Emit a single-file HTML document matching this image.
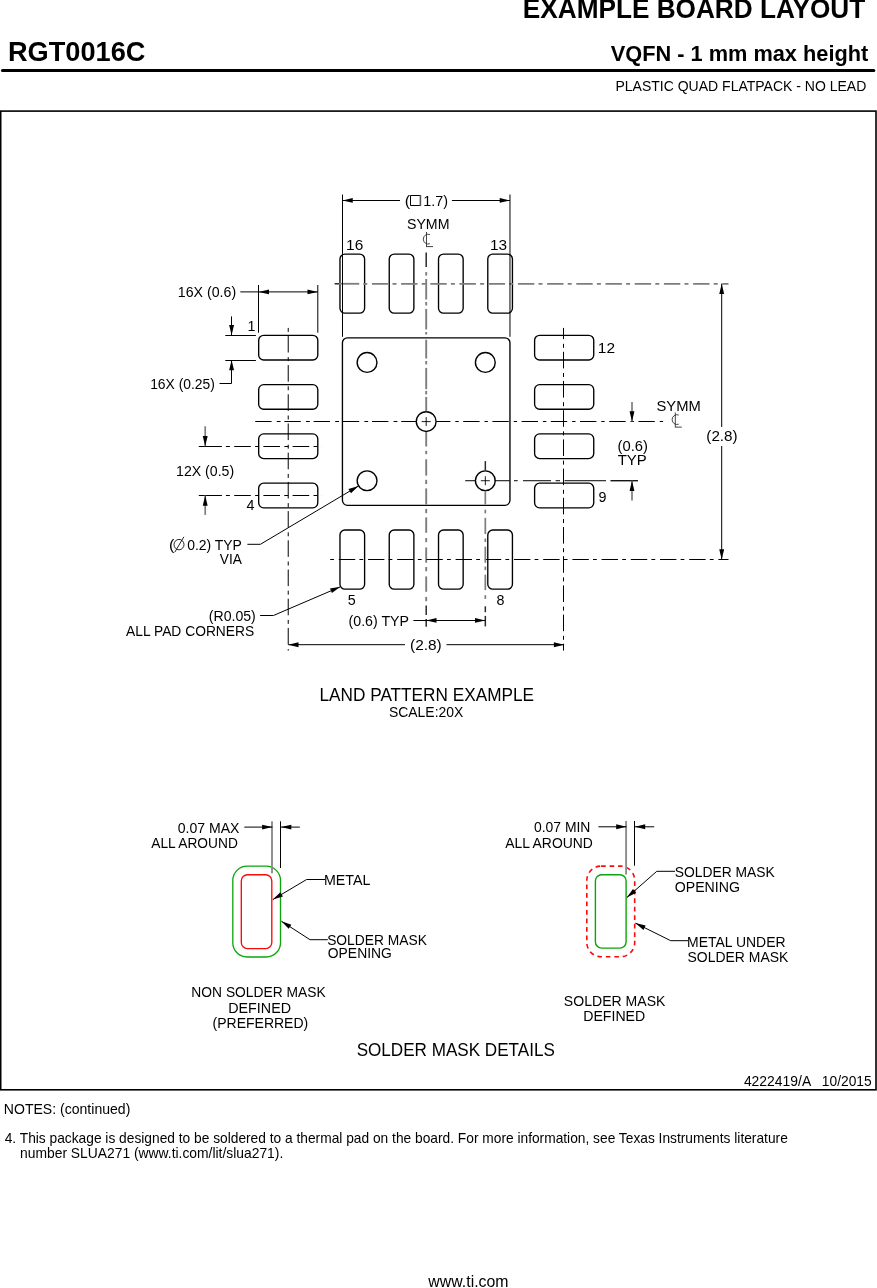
<!DOCTYPE html>
<html><head><meta charset="utf-8"><title>RGT0016C</title>
<style>
html,body{margin:0;padding:0;background:#fff;}
body{width:877px;height:1288px;overflow:hidden;font-family:"Liberation Sans",sans-serif;}
svg{display:block;position:absolute;left:0;top:0;will-change:transform;}
svg text{font-family:"Liberation Sans",sans-serif;fill:#000;white-space:pre;}
</style></head><body>
<svg width="877" height="1288" viewBox="0 0 877 1288">
<text x="522.83" y="18.4" font-size="27.6" textLength="342.34" lengthAdjust="spacingAndGlyphs" font-weight="bold">EXAMPLE BOARD LAYOUT</text>
<text x="7.97" y="61" font-size="27.7" textLength="137.49" lengthAdjust="spacingAndGlyphs" font-weight="bold">RGT0016C</text>
<text x="610.74" y="60.5" font-size="22.6" textLength="257.55" lengthAdjust="spacingAndGlyphs" font-weight="bold">VQFN - 1 mm max height</text>
<line x1="2.5" y1="70.5" x2="873.8" y2="70.5" stroke="#000" stroke-width="3.1" stroke-linecap="round"/>
<text x="615.44" y="91.2" font-size="14.4" textLength="250.91" lengthAdjust="spacingAndGlyphs">PLASTIC QUAD FLATPACK - NO LEAD</text>
<rect x="0.7" y="111.1" width="875.3" height="978.7" fill="none" stroke="#000" stroke-width="1.6"/>
<rect x="342.43" y="337.83" width="167.53" height="167.53" rx="5" ry="5" fill="none" stroke="#000" stroke-width="1.35"/>
<rect x="339.97" y="254.06" width="24.64" height="59.13" rx="5" ry="5" fill="none" stroke="#000" stroke-width="1.35"/>
<rect x="339.97" y="530.01" width="24.64" height="59.13" rx="5" ry="5" fill="none" stroke="#000" stroke-width="1.35"/>
<rect x="258.67" y="335.37" width="59.13" height="24.64" rx="5" ry="5" fill="none" stroke="#000" stroke-width="1.35"/>
<rect x="534.61" y="335.37" width="59.13" height="24.64" rx="5" ry="5" fill="none" stroke="#000" stroke-width="1.35"/>
<rect x="389.24" y="254.06" width="24.64" height="59.13" rx="5" ry="5" fill="none" stroke="#000" stroke-width="1.35"/>
<rect x="389.24" y="530.01" width="24.64" height="59.13" rx="5" ry="5" fill="none" stroke="#000" stroke-width="1.35"/>
<rect x="258.67" y="384.64" width="59.13" height="24.64" rx="5" ry="5" fill="none" stroke="#000" stroke-width="1.35"/>
<rect x="534.61" y="384.64" width="59.13" height="24.64" rx="5" ry="5" fill="none" stroke="#000" stroke-width="1.35"/>
<rect x="438.52" y="254.06" width="24.64" height="59.13" rx="5" ry="5" fill="none" stroke="#000" stroke-width="1.35"/>
<rect x="438.52" y="530.01" width="24.64" height="59.13" rx="5" ry="5" fill="none" stroke="#000" stroke-width="1.35"/>
<rect x="258.67" y="433.92" width="59.13" height="24.64" rx="5" ry="5" fill="none" stroke="#000" stroke-width="1.35"/>
<rect x="534.61" y="433.92" width="59.13" height="24.64" rx="5" ry="5" fill="none" stroke="#000" stroke-width="1.35"/>
<rect x="487.79" y="254.06" width="24.64" height="59.13" rx="5" ry="5" fill="none" stroke="#000" stroke-width="1.35"/>
<rect x="487.79" y="530.01" width="24.64" height="59.13" rx="5" ry="5" fill="none" stroke="#000" stroke-width="1.35"/>
<rect x="258.67" y="483.19" width="59.13" height="24.64" rx="5" ry="5" fill="none" stroke="#000" stroke-width="1.35"/>
<rect x="534.61" y="483.19" width="59.13" height="24.64" rx="5" ry="5" fill="none" stroke="#000" stroke-width="1.35"/>
<circle cx="367.07" cy="362.47" r="9.9" fill="none" stroke="#000" stroke-width="1.4"/>
<circle cx="367.07" cy="480.73" r="9.9" fill="none" stroke="#000" stroke-width="1.4"/>
<circle cx="485.33" cy="362.47" r="9.9" fill="none" stroke="#000" stroke-width="1.4"/>
<circle cx="485.33" cy="480.73" r="9.9" fill="none" stroke="#000" stroke-width="1.4"/>
<circle cx="426.2" cy="421.6" r="9.9" fill="none" stroke="#000" stroke-width="1.4"/>
<line x1="421.7" y1="421.6" x2="430.7" y2="421.6" stroke="#000" stroke-width="0.9"/>
<line x1="426.2" y1="417.1" x2="426.2" y2="426.1" stroke="#000" stroke-width="0.9"/>
<line x1="480.83" y1="480.73" x2="489.83" y2="480.73" stroke="#000" stroke-width="0.9"/>
<line x1="485.33" y1="476.23" x2="485.33" y2="485.23" stroke="#000" stroke-width="0.9"/>
<line x1="426.2" y1="252.5" x2="426.2" y2="267" stroke="#2a2a2a" stroke-width="1.5"/>
<line x1="426.2" y1="272.1" x2="426.2" y2="275.6" stroke="#7d7d7d" stroke-width="1.9"/>
<line x1="426.2" y1="279" x2="426.2" y2="299.5" stroke="#7d7d7d" stroke-width="1.9"/>
<line x1="426.2" y1="302" x2="426.2" y2="305.5" stroke="#7d7d7d" stroke-width="1.9"/>
<line x1="426.2" y1="308.9" x2="426.2" y2="329.4" stroke="#7d7d7d" stroke-width="1.9"/>
<line x1="426.2" y1="332" x2="426.2" y2="334.5" stroke="#7d7d7d" stroke-width="1.9"/>
<line x1="426.2" y1="339.7" x2="426.2" y2="358.5" stroke="#7d7d7d" stroke-width="1.9"/>
<line x1="426.2" y1="361" x2="426.2" y2="364.4" stroke="#7d7d7d" stroke-width="1.9"/>
<line x1="426.2" y1="367.9" x2="426.2" y2="389.2" stroke="#7d7d7d" stroke-width="1.9"/>
<line x1="426.2" y1="390.9" x2="426.2" y2="394.4" stroke="#7d7d7d" stroke-width="1.9"/>
<line x1="426.2" y1="396.9" x2="426.2" y2="411.2" stroke="#7d7d7d" stroke-width="1.9"/>
<line x1="426.2" y1="432" x2="426.2" y2="446.5" stroke="#7d7d7d" stroke-width="1.9"/>
<line x1="426.2" y1="450.8" x2="426.2" y2="454.2" stroke="#7d7d7d" stroke-width="1.9"/>
<line x1="426.2" y1="459.3" x2="426.2" y2="475.6" stroke="#7d7d7d" stroke-width="1.9"/>
<line x1="426.2" y1="479.8" x2="426.2" y2="484.1" stroke="#7d7d7d" stroke-width="1.9"/>
<line x1="426.2" y1="488.4" x2="426.2" y2="504.6" stroke="#7d7d7d" stroke-width="1.9"/>
<line x1="426.2" y1="508.9" x2="426.2" y2="513.2" stroke="#7d7d7d" stroke-width="1.9"/>
<line x1="426.2" y1="517.4" x2="426.2" y2="532.8" stroke="#7d7d7d" stroke-width="1.9"/>
<line x1="426.2" y1="538" x2="426.2" y2="542.2" stroke="#7d7d7d" stroke-width="1.9"/>
<line x1="426.2" y1="547.4" x2="426.2" y2="562.7" stroke="#7d7d7d" stroke-width="1.9"/>
<line x1="426.2" y1="567" x2="426.2" y2="571.3" stroke="#7d7d7d" stroke-width="1.9"/>
<line x1="426.2" y1="576.4" x2="426.2" y2="591.8" stroke="#7d7d7d" stroke-width="1.9"/>
<line x1="426.2" y1="596.9" x2="426.2" y2="601.2" stroke="#7d7d7d" stroke-width="1.9"/>
<line x1="426.2" y1="605.5" x2="426.2" y2="614.9" stroke="#2a2a2a" stroke-width="1.5"/>
<line x1="426.2" y1="619.1" x2="426.2" y2="626.8" stroke="#2a2a2a" stroke-width="1.5"/>
<line x1="255.2" y1="421.5" x2="416.3" y2="421.5" stroke="#000" stroke-width="1" stroke-dasharray="16.4 5.2 3.8 3.8"/>
<line x1="436.3" y1="421.5" x2="664.5" y2="421.5" stroke="#000" stroke-width="1" stroke-dashoffset="2.3" stroke-dasharray="16.4 4.9 3.4 4.5"/>
<line x1="334.6" y1="283.78" x2="339" y2="283.78" stroke="#2a2a2a" stroke-width="1.5"/>
<line x1="339" y1="283.78" x2="359.2" y2="283.78" stroke="#7d7d7d" stroke-width="1.8"/>
<line x1="363.3" y1="283.78" x2="728.5" y2="283.78" stroke="#7d7d7d" stroke-width="1.8" stroke-dasharray="4 4.6 16.4 4.2"/>
<line x1="330.2" y1="559.5" x2="728.5" y2="559.5" stroke="#000" stroke-width="1" stroke-dasharray="3.8 4.8 16.4 4.2"/>
<line x1="288.23" y1="327.9" x2="288.23" y2="650.6" stroke="#000" stroke-width="1" stroke-dasharray="4 4 16.6 4.6"/>
<line x1="563.5" y1="327.9" x2="563.5" y2="339.1" stroke="#000" stroke-width="1"/>
<line x1="563.5" y1="343.8" x2="563.5" y2="650.6" stroke="#000" stroke-width="1" stroke-dasharray="4 4 16.6 4.6"/>
<line x1="485.33" y1="461.1" x2="485.33" y2="470.3" stroke="#2a2a2a" stroke-width="1.5"/>
<line x1="485.33" y1="490.8" x2="485.33" y2="504.5" stroke="#7d7d7d" stroke-width="1.7"/>
<line x1="485.33" y1="509.7" x2="485.33" y2="513.4" stroke="#7d7d7d" stroke-width="1.7"/>
<line x1="485.33" y1="517.8" x2="485.33" y2="534" stroke="#7d7d7d" stroke-width="1.7"/>
<line x1="485.33" y1="538.5" x2="485.33" y2="542.1" stroke="#7d7d7d" stroke-width="1.7"/>
<line x1="485.33" y1="546.6" x2="485.33" y2="562.8" stroke="#7d7d7d" stroke-width="1.7"/>
<line x1="485.33" y1="566.5" x2="485.33" y2="570.2" stroke="#7d7d7d" stroke-width="1.7"/>
<line x1="485.33" y1="574.6" x2="485.33" y2="590.1" stroke="#7d7d7d" stroke-width="1.7"/>
<line x1="485.33" y1="595.2" x2="485.33" y2="598.9" stroke="#7d7d7d" stroke-width="1.7"/>
<line x1="485.33" y1="606.3" x2="485.33" y2="612.2" stroke="#2a2a2a" stroke-width="1.5"/>
<line x1="485.33" y1="615.9" x2="485.33" y2="626.4" stroke="#2a2a2a" stroke-width="1.5"/>
<line x1="465.2" y1="480.73" x2="475.2" y2="480.73" stroke="#000" stroke-width="1"/>
<line x1="494.6" y1="480.73" x2="509.7" y2="480.73" stroke="#000" stroke-width="1"/>
<line x1="514" y1="480.73" x2="517.7" y2="480.73" stroke="#000" stroke-width="1"/>
<line x1="523" y1="480.73" x2="551" y2="480.73" stroke="#000" stroke-width="1"/>
<line x1="555.6" y1="480.73" x2="560" y2="480.73" stroke="#000" stroke-width="1"/>
<line x1="564.5" y1="480.73" x2="606" y2="480.73" stroke="#000" stroke-width="1"/>
<line x1="610.5" y1="480.73" x2="638" y2="480.73" stroke="#000" stroke-width="1.3"/>
<line x1="198.8" y1="446.5" x2="221.9" y2="446.5" stroke="#000" stroke-width="1"/>
<line x1="225.9" y1="446.5" x2="321.9" y2="446.5" stroke="#000" stroke-width="1" stroke-dasharray="4 4.3 16.6 4.3"/>
<line x1="198.8" y1="495.5" x2="221.9" y2="495.5" stroke="#000" stroke-width="1"/>
<line x1="225.9" y1="495.5" x2="321.9" y2="495.5" stroke="#000" stroke-width="1" stroke-dasharray="4 4.3 16.6 4.3"/>
<line x1="342.5" y1="194.5" x2="342.5" y2="336.83" stroke="#000" stroke-width="1"/>
<line x1="509.97" y1="194.5" x2="509.97" y2="336.83" stroke="#000" stroke-width="1"/>
<line x1="342.43" y1="200.5" x2="400" y2="200.5" stroke="#000" stroke-width="1"/>
<line x1="451.9" y1="200.5" x2="509.97" y2="200.5" stroke="#000" stroke-width="1"/>
<polygon points="342.43,200.4 352.73,197.95 352.73,202.85" fill="#000"/>
<polygon points="509.97,200.4 499.67,202.85 499.67,197.95" fill="#000"/>
<text x="404.69" y="205.6" font-size="14.3" textLength="5.4" lengthAdjust="spacingAndGlyphs">(</text>
<path d="M420.5 195.5 H410.5 V205.5 H420.5" fill="none" stroke="#000" stroke-width="1"/>
<line x1="420.4" y1="195" x2="420.4" y2="206" stroke="#555" stroke-width="1.6"/>
<text x="423.22" y="205.6" font-size="14.3" textLength="24.75" lengthAdjust="spacingAndGlyphs">1.7)</text>
<text x="406.96" y="228.7" font-size="14.3" textLength="42.51" lengthAdjust="spacingAndGlyphs">SYMM</text>
<line x1="426.5" y1="232" x2="426.5" y2="247" stroke="#222" stroke-width="0.85"/>
<line x1="426.5" y1="246.6" x2="433" y2="246.6" stroke="#222" stroke-width="0.85"/>
<path d="M 429.9 234.5 A 4.9 4.9 0 1 0 429.9 243.7" fill="none" stroke="#222" stroke-width="0.85"/>
<line x1="675.3" y1="412.5" x2="675.3" y2="427.5" stroke="#222" stroke-width="0.85"/>
<line x1="675.3" y1="427.1" x2="681.8" y2="427.1" stroke="#222" stroke-width="0.85"/>
<path d="M 678.7 415 A 4.9 4.9 0 1 0 678.7 424.2" fill="none" stroke="#222" stroke-width="0.85"/>
<text x="656.44" y="411" font-size="14.3" textLength="44.28" lengthAdjust="spacingAndGlyphs">SYMM</text>
<text x="346.14" y="250.3" font-size="14.3" textLength="17.15" lengthAdjust="spacingAndGlyphs">16</text>
<text x="490.04" y="250.3" font-size="14.3" textLength="17.15" lengthAdjust="spacingAndGlyphs">13</text>
<text x="247.4" y="330.7" font-size="14.3">1</text>
<text x="597.84" y="353.3" font-size="14.3" textLength="17.17" lengthAdjust="spacingAndGlyphs">12</text>
<text x="598.5" y="501.6" font-size="14.3">9</text>
<text x="246.6" y="509.9" font-size="14.3">4</text>
<text x="347.7" y="604.7" font-size="14.3">5</text>
<text x="496.6" y="604.7" font-size="14.3">8</text>
<line x1="258.5" y1="285" x2="258.5" y2="332.7" stroke="#000" stroke-width="1"/>
<line x1="317.8" y1="285" x2="317.8" y2="332.7" stroke="#000" stroke-width="1"/>
<line x1="240.3" y1="291.9" x2="317.8" y2="291.9" stroke="#000" stroke-width="1"/>
<polygon points="258.67,291.9 268.97,289.45 268.97,294.35" fill="#000"/>
<polygon points="317.8,291.9 307.5,294.35 307.5,289.45" fill="#000"/>
<text x="177.84" y="297.3" font-size="14.3" textLength="58.33" lengthAdjust="spacingAndGlyphs">16X (0.6)</text>
<line x1="225.3" y1="335.5" x2="255.9" y2="335.5" stroke="#000" stroke-width="1"/>
<line x1="225.3" y1="360.5" x2="255.9" y2="360.5" stroke="#000" stroke-width="1"/>
<line x1="231.5" y1="316.4" x2="231.5" y2="335.37" stroke="#000" stroke-width="1"/>
<polygon points="231.6,335.37 229.15,325.07 234.05,325.07" fill="#000"/>
<polyline points="231.5,360.01 231.5,383.5 219.5,383.5" fill="none" stroke="#000" stroke-width="1"/>
<polygon points="231.6,360.01 234.05,370.31 229.15,370.31" fill="#000"/>
<text x="150.16" y="388.6" font-size="14.3" textLength="64.77" lengthAdjust="spacingAndGlyphs">16X (0.25)</text>
<line x1="205.2" y1="426.3" x2="205.2" y2="446.24" stroke="#7d7d7d" stroke-width="1.7"/>
<polygon points="205.2,446.24 202.75,435.94 207.65,435.94" fill="#000"/>
<line x1="205.2" y1="514.9" x2="205.2" y2="495.51" stroke="#7d7d7d" stroke-width="1.7"/>
<polygon points="205.2,495.51 207.65,505.81 202.75,505.81" fill="#000"/>
<text x="176.04" y="475.8" font-size="14.3" textLength="58.12" lengthAdjust="spacingAndGlyphs">12X (0.5)</text>
<text x="169.09" y="549.8" font-size="14.3" textLength="5.4" lengthAdjust="spacingAndGlyphs">(</text>
<ellipse cx="179" cy="544.6" rx="5" ry="5.2" fill="none" stroke="#111" stroke-width="0.9"/>
<line x1="174.8" y1="552.2" x2="183.9" y2="536.8" stroke="#111" stroke-width="0.9"/>
<text x="187.14" y="549.8" font-size="14.3" textLength="54.8" lengthAdjust="spacingAndGlyphs">0.2) TYP</text>
<text x="219.83" y="564" font-size="14.3" textLength="22.09" lengthAdjust="spacingAndGlyphs">VIA</text>
<polyline points="247.4,544.3 260.4,544.3 358.57,485.93" fill="none" stroke="#000" stroke-width="1"/>
<polygon points="358.57,485.93 350.97,493.3 348.46,489.09" fill="#000"/>
<text x="208.82" y="621" font-size="14.3" textLength="47.02" lengthAdjust="spacingAndGlyphs">(R0.05)</text>
<text x="126.07" y="635.8" font-size="14.3" textLength="128.16" lengthAdjust="spacingAndGlyphs">ALL PAD CORNERS</text>
<polyline points="260.1,615.5 273.4,615.5 340.4,586.8" fill="none" stroke="#000" stroke-width="1"/>
<polygon points="340.4,586.8 331.9,593.12 329.97,588.62" fill="#000"/>
<line x1="485.5" y1="627" x2="485.5" y2="627" stroke="#000" stroke-width="1"/>
<line x1="413.4" y1="620.5" x2="485.33" y2="620.5" stroke="#000" stroke-width="1"/>
<polygon points="426.2,620.4 436.5,617.95 436.5,622.85" fill="#000"/>
<polygon points="485.33,620.4 475.03,622.85 475.03,617.95" fill="#000"/>
<text x="348.51" y="625.9" font-size="14.3" textLength="60.51" lengthAdjust="spacingAndGlyphs">(0.6) TYP</text>
<line x1="288.23" y1="644.7" x2="405" y2="644.7" stroke="#000" stroke-width="1"/>
<line x1="446.5" y1="644.7" x2="564.17" y2="644.7" stroke="#000" stroke-width="1"/>
<polygon points="288.23,644.7 298.53,642.25 298.53,647.15" fill="#000"/>
<polygon points="564.17,644.7 553.87,647.15 553.87,642.25" fill="#000"/>
<text x="410.04" y="650.3" font-size="14.3" textLength="31.71" lengthAdjust="spacingAndGlyphs">(2.8)</text>
<line x1="721.7" y1="283.63" x2="721.7" y2="427" stroke="#000" stroke-width="1"/>
<line x1="721.7" y1="446" x2="721.7" y2="559.57" stroke="#000" stroke-width="1"/>
<polygon points="721.7,283.63 724.15,293.93 719.25,293.93" fill="#000"/>
<polygon points="721.7,559.57 719.25,549.27 724.15,549.27" fill="#000"/>
<text x="706.35" y="440.6" font-size="14.3" textLength="31.28" lengthAdjust="spacingAndGlyphs">(2.8)</text>
<line x1="632" y1="402" x2="632" y2="421.6" stroke="#7d7d7d" stroke-width="1.7"/>
<polygon points="632,421.6 629.55,411.3 634.45,411.3" fill="#000"/>
<line x1="632" y1="500.4" x2="632" y2="480.73" stroke="#7d7d7d" stroke-width="1.7"/>
<polygon points="632,480.73 634.45,491.03 629.55,491.03" fill="#000"/>
<text x="617.58" y="451" font-size="14.3" textLength="30.32" lengthAdjust="spacingAndGlyphs">(0.6)</text>
<text x="617.66" y="465.1" font-size="14.3" textLength="29.12" lengthAdjust="spacingAndGlyphs">TYP</text>
<text x="319.53" y="701.4" font-size="17.6" textLength="214.48" lengthAdjust="spacingAndGlyphs">LAND PATTERN EXAMPLE</text>
<text x="388.97" y="717.2" font-size="14.3" textLength="74.33" lengthAdjust="spacingAndGlyphs">SCALE:20X</text>
<rect x="232.8" y="866.2" width="47.7" height="90.8" rx="14.3" ry="14.3" fill="none" stroke="#0aa50a" stroke-width="1.3"/>
<rect x="241.3" y="874.7" width="30.5" height="73.9" rx="6.2" ry="6.2" fill="none" stroke="#ff0808" stroke-width="1.35"/>
<line x1="272" y1="821.3" x2="272" y2="873.2" stroke="#8c8c8c" stroke-width="1.9"/>
<line x1="280.5" y1="821.3" x2="280.5" y2="868" stroke="#000" stroke-width="1"/>
<line x1="244.3" y1="827.1" x2="272.4" y2="827.1" stroke="#000" stroke-width="1"/>
<polygon points="272.4,827.1 262.1,829.55 262.1,824.65" fill="#000"/>
<line x1="281" y1="827.1" x2="299.8" y2="827.1" stroke="#000" stroke-width="1"/>
<polygon points="281,827.1 291.3,824.65 291.3,829.55" fill="#000"/>
<text x="177.74" y="832.6" font-size="14.3" textLength="61.76" lengthAdjust="spacingAndGlyphs">0.07 MAX</text>
<text x="151.27" y="847.6" font-size="14.3" textLength="86.57" lengthAdjust="spacingAndGlyphs">ALL AROUND</text>
<text x="323.92" y="884.6" font-size="14.3" textLength="46.47" lengthAdjust="spacingAndGlyphs">METAL</text>
<polyline points="325,879.5 306.6,879.5 272.8,899.6" fill="none" stroke="#000" stroke-width="1"/>
<polygon points="272.8,899.6 280.38,892.21 282.9,896.42" fill="#000"/>
<text x="327.18" y="944.8" font-size="14.3" textLength="99.68" lengthAdjust="spacingAndGlyphs">SOLDER MASK</text>
<text x="327.84" y="957.8" font-size="14.3" textLength="63.99" lengthAdjust="spacingAndGlyphs">OPENING</text>
<polyline points="327.8,939.7 310,939.7 281.4,921.2" fill="none" stroke="#000" stroke-width="1"/>
<polygon points="281.4,921.2 291.38,924.74 288.72,928.85" fill="#000"/>
<text x="191.36" y="997.1" font-size="14.3" textLength="134.3" lengthAdjust="spacingAndGlyphs">NON SOLDER MASK</text>
<text x="228.22" y="1012.7" font-size="14.3" textLength="62.85" lengthAdjust="spacingAndGlyphs">DEFINED</text>
<text x="212.52" y="1028.1" font-size="14.3" textLength="95.73" lengthAdjust="spacingAndGlyphs">(PREFERRED)</text>
<rect x="586.8" y="866.1" width="47.9" height="90.7" rx="14.3" ry="14.3" fill="none" stroke="#ff0808" stroke-width="1.6" stroke-dasharray="4.6 3.9"/>
<rect x="595.4" y="874.8" width="30.7" height="73.3" rx="6.2" ry="6.2" fill="none" stroke="#0aa50a" stroke-width="1.4"/>
<line x1="626.1" y1="821" x2="626.1" y2="874.5" stroke="#8c8c8c" stroke-width="1.9"/>
<line x1="634.5" y1="821" x2="634.5" y2="865.7" stroke="#000" stroke-width="1"/>
<line x1="598.4" y1="826.8" x2="626.5" y2="826.8" stroke="#000" stroke-width="1"/>
<polygon points="626.5,826.8 616.2,829.25 616.2,824.35" fill="#000"/>
<line x1="634.9" y1="826.8" x2="654.2" y2="826.8" stroke="#000" stroke-width="1"/>
<polygon points="634.9,826.8 645.2,824.35 645.2,829.25" fill="#000"/>
<text x="533.94" y="831.9" font-size="14.3" textLength="56.5" lengthAdjust="spacingAndGlyphs">0.07 MIN</text>
<text x="505.27" y="848" font-size="14.3" textLength="87.57" lengthAdjust="spacingAndGlyphs">ALL AROUND</text>
<text x="674.78" y="877.2" font-size="14.3" textLength="100.09" lengthAdjust="spacingAndGlyphs">SOLDER MASK</text>
<text x="674.73" y="891.7" font-size="14.3" textLength="65.22" lengthAdjust="spacingAndGlyphs">OPENING</text>
<polyline points="675,871.3 656.8,871.3 626.8,897.6" fill="none" stroke="#000" stroke-width="1"/>
<polygon points="626.8,897.6 632.93,888.97 636.16,892.65" fill="#000"/>
<text x="687.05" y="946.9" font-size="14.3" textLength="98.5" lengthAdjust="spacingAndGlyphs">METAL UNDER</text>
<text x="687.57" y="961.5" font-size="14.3" textLength="100.79" lengthAdjust="spacingAndGlyphs">SOLDER MASK</text>
<polyline points="688,940.7 670.7,940.7 635.3,923.1" fill="none" stroke="#000" stroke-width="1"/>
<polygon points="635.3,923.1 645.61,925.49 643.43,929.88" fill="#000"/>
<text x="563.87" y="1005.8" font-size="14.3" textLength="101.6" lengthAdjust="spacingAndGlyphs">SOLDER MASK</text>
<text x="583.23" y="1020.8" font-size="14.3" textLength="62.03" lengthAdjust="spacingAndGlyphs">DEFINED</text>
<text x="356.63" y="1055.6" font-size="17.6" textLength="198.21" lengthAdjust="spacingAndGlyphs">SOLDER MASK DETAILS</text>
<text x="743.89" y="1085.5" font-size="14" textLength="67.36" lengthAdjust="spacingAndGlyphs">4222419/A</text>
<text x="821.87" y="1085.5" font-size="14" textLength="49.82" lengthAdjust="spacingAndGlyphs">10/2015</text>
<text x="3.84" y="1113.7" font-size="14.5" textLength="126.52" lengthAdjust="spacingAndGlyphs">NOTES: (continued)</text>
<text x="4.69" y="1142.8" font-size="14.5" textLength="783.11" lengthAdjust="spacingAndGlyphs">4. This package is designed to be soldered to a thermal pad on the board. For more information, see Texas Instruments literature</text>
<text x="20.07" y="1157.8" font-size="14.5" textLength="263.19" lengthAdjust="spacingAndGlyphs">number SLUA271 (www.ti.com/lit/slua271).</text>
<text x="428.34" y="1287.4" font-size="16.1" textLength="80.21" lengthAdjust="spacingAndGlyphs">www.ti.com</text>
</svg>
</body></html>
